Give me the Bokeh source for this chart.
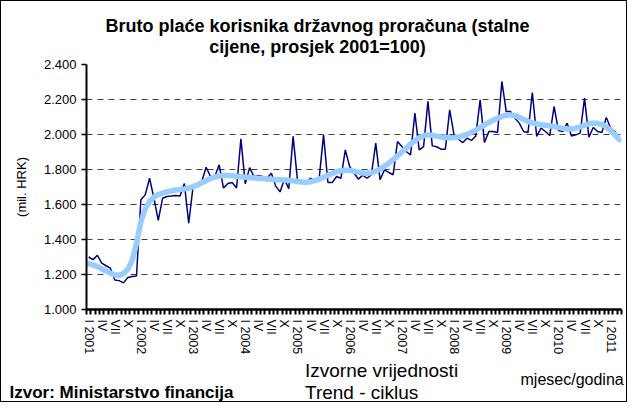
from bokeh.plotting import figure
from bokeh.models import Range1d, FixedTicker, Legend, LegendItem, Label
from bokeh.layouts import column
from bokeh.embed import file_html
from bokeh.resources import INLINE

# ---- data -------------------------------------------------------------
years = [2001, 2002, 2003, 2004, 2005, 2006, 2007, 2008, 2009, 2010, 2011]
quarter_roman = ["I", "IV", "VII", "X"]

original = [
    1300, 1285, 1310, 1265, 1250, 1236, 1168, 1165, 1152, 1183, 1188, 1192,   # 2001
    1627, 1655, 1750, 1636, 1509, 1636, 1646, 1648, 1651, 1648, 1720, 1493,   # 2002
    1703, 1712, 1731, 1813, 1760, 1760, 1827, 1694, 1720, 1726, 1694, 1975,   # 2003
    1718, 1811, 1760, 1766, 1760, 1750, 1779, 1705, 1672, 1745, 1690, 1989,   # 2004
    1741, 1731, 1720, 1750, 1735, 1750, 1998, 1726, 1726, 1760, 1750, 1912,   # 2005
    1817, 1780, 1745, 1768, 1750, 1770, 1951, 1741, 1798, 1783, 1770, 1960,   # 2006
    1931, 1903, 1884, 2122, 1912, 1931, 2189, 1935, 1930, 1916, 1916, 2141,   # 2007
    1998, 1973, 1954, 1979, 1966, 1992, 2198, 1954, 2017, 2017, 2011, 2303,   # 2008
    2131, 2131, 2093, 2065, 2017, 2011, 2240, 1989, 2037, 2017, 1994, 2160,   # 2009
    2023, 2017, 2065, 1992, 1998, 2008, 2208, 1985, 2040, 2017, 2011, 2097,   # 2010
    2037, 2017, 1970,                                                         # 2011
]

trend = [
    1262, 1255, 1245, 1232, 1220, 1208, 1198, 1195, 1205, 1230, 1280, 1380,
    1500, 1575, 1618, 1642, 1656, 1665, 1672, 1678, 1683, 1686, 1689, 1694,
    1702, 1712, 1724, 1737, 1748, 1757, 1763, 1766, 1766, 1764, 1761, 1758,
    1756, 1754, 1752, 1750, 1748, 1746, 1744, 1742, 1741, 1740, 1738, 1735,
    1731, 1728, 1727, 1730, 1736, 1745, 1756, 1767, 1778, 1787, 1793, 1796,
    1795, 1790, 1784, 1780, 1779, 1782, 1790, 1802, 1818, 1836, 1856, 1878,
    1900, 1922, 1945, 1965, 1982, 1993, 1998, 1996, 1991, 1986, 1983, 1982,
    1983, 1986, 1992, 2001, 2012, 2025, 2040, 2055, 2069, 2082, 2093, 2103,
    2110, 2112, 2108, 2098, 2086, 2075, 2066, 2060, 2056, 2053, 2050, 2046,
    2041, 2035, 2031, 2031, 2036, 2044, 2053, 2061, 2065, 2064, 2057, 2044,
    2024, 1998, 1970,
]

y_ticks = [1000, 1200, 1400, 1600, 1800, 2000, 2200, 2400]
y_tick_labels = ["1.000", "1.200", "1.400", "1.600", "1.800", "2.000", "2.200", "2.400"]

title_lines = ["Bruto plaće korisnika državnog proračuna (stalne",
               "cijene, prosjek 2001=100)"]
series_names = ["Izvorne vrijednosti", "Trend - ciklus"]
x_title = "mjesec/godina"
y_title = "(mil. HRK)"
source_note = "Izvor: Ministarstvo financija"

months = list(range(len(original)))

x_major = [m for m in months if m % 3 == 0]
x_labels = {}
for m in x_major:
    lbl = quarter_roman[(m % 12) // 3]
    if m % 12 == 0:
        lbl += " " + str(years[m // 12])
    x_labels[m] = lbl
x_minor = [m - 0.5 for m in months] + [months[-1] + 0.5]

FONT = "Liberation Sans"
NAVY = "#000080"
LIGHT = "#99CCFF"
BORDER = "1px solid black"
W = 627


def strip(height, styles):
    """A figure whose frame fills the whole canvas (for texts and legend)."""
    f = figure(width=W, height=height, output_backend="svg", toolbar_location=None,
               x_range=Range1d(0, W), y_range=Range1d(0, height),
               x_axis_location=None, y_axis_location=None,
               min_border_left=0, min_border_right=0, min_border_top=0, min_border_bottom=0)
    f.grid.visible = False
    f.outline_line_color = None
    f.background_fill_color = "white"
    f.border_fill_color = "white"
    f.styles = styles
    if "frame_align" in f.properties():
        f.frame_align = False
    return f


# ---- title strip ------------------------------------------------------
p0 = strip(57, {"border-top": BORDER, "border-left": BORDER, "border-right": BORDER})
p0.add_layout(Label(x=316, y=33, x_units="screen", y_units="screen",
                    text=title_lines[0], text_align="center", text_baseline="alphabetic",
                    text_font=FONT, text_font_size="18px", text_font_style="bold",
                    text_color="black"))
p0.add_layout(Label(x=316, y=12, x_units="screen", y_units="screen",
                    text=title_lines[1], text_align="center", text_baseline="alphabetic",
                    text_font=FONT, text_font_size="18px", text_font_style="bold",
                    text_color="black"))

# ---- main chart -------------------------------------------------------
p = figure(width=W, height=302, output_backend="svg", toolbar_location=None,
           x_range=Range1d(-0.5, len(months) - 0.5), y_range=Range1d(1000, 2400),
           min_border_left=85, min_border_right=7, min_border_top=7, min_border_bottom=50)
p.styles = {"border-left": BORDER, "border-right": BORDER}
if "frame_align" in p.properties():
    p.frame_align = False
p.outline_line_color = None
p.background_fill_color = "white"
p.border_fill_color = "white"

p.xgrid.grid_line_color = None
p.ygrid.grid_line_color = "#404040"
p.ygrid.grid_line_dash = "6 5"
p.ygrid.grid_line_width = 1

xa = p.xaxis[0]
xa.ticker = FixedTicker(ticks=x_major, minor_ticks=x_minor)
xa.major_label_overrides = x_labels
xa.major_label_orientation = "vertical"
xa.major_tick_out = 0
xa.major_tick_in = 0
xa.major_tick_line_color = None
xa.minor_tick_out = 5
xa.minor_tick_in = 0
xa.minor_tick_line_color = "black"
xa.minor_tick_line_width = 2
xa.axis_line_width = 2.5
xa.axis_line_color = "black"
xa.major_label_standoff = 5
xa.major_label_text_font = FONT
xa.major_label_text_font_size = "12.5px"
xa.major_label_text_color = "black"

ya = p.yaxis[0]
ya.ticker = FixedTicker(ticks=y_ticks)
ya.major_label_overrides = dict(zip(y_ticks, y_tick_labels))
ya.major_tick_out = 5
ya.major_tick_in = 0
ya.major_tick_line_width = 1.5
ya.minor_tick_line_color = None
ya.axis_line_width = 2
ya.axis_line_color = "black"
ya.major_label_standoff = 5
ya.major_label_text_font = FONT
ya.major_label_text_font_size = "13px"
ya.major_label_text_color = "black"
ya.axis_label = y_title
ya.axis_label_text_font = FONT
ya.axis_label_text_font_size = "13px"
ya.axis_label_text_font_style = "normal"
ya.axis_label_text_color = "black"
ya.axis_label_standoff = 12

p.line(months, original, line_color=NAVY, line_width=1.5)
p.line(months, trend, line_color=LIGHT, line_width=5.5, line_join="round", line_cap="round")

# ---- bottom strip: legend and notes -----------------------------------
p2 = strip(43, {"border-bottom": BORDER, "border-left": BORDER, "border-right": BORDER})
k1 = p2.line(x=[], y=[], line_color=NAVY, line_width=1.5)
k2 = p2.line(x=[], y=[], line_color=LIGHT, line_width=5.5, line_cap="round")

legend = Legend(items=[LegendItem(label=series_names[0], renderers=[k1]),
                       LegendItem(label=series_names[1], renderers=[k2])],
                location=(264, -2), orientation="vertical",
                glyph_width=37, glyph_height=18, label_height=18, label_standoff=3,
                spacing=0, padding=0, margin=0,
                label_text_font=FONT, label_text_font_size="19px",
                label_text_color="black",
                background_fill_alpha=0, border_line_color=None)
p2.add_layout(legend)

p2.add_layout(Label(x=519, y=23, x_units="screen", y_units="screen",
                    text=x_title, text_align="left", text_baseline="alphabetic",
                    text_font=FONT, text_font_size="16px", text_color="black"))
p2.add_layout(Label(x=8, y=10, x_units="screen", y_units="screen",
                    text=source_note, text_align="left", text_baseline="alphabetic",
                    text_font=FONT, text_font_size="17px", text_font_style="bold",
                    text_color="black"))

layout = column(p0, p, p2, spacing=0)
open("out.html", "w").write(file_html(layout, INLINE))
